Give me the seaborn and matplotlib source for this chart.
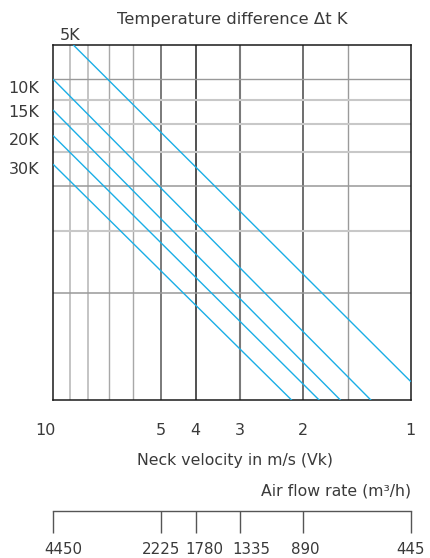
import pandas as pd
import numpy as np
import matplotlib
matplotlib.use("Agg")
import matplotlib.pyplot as plt
import matplotlib.transforms as mtransforms
from matplotlib.ticker import NullLocator, FixedLocator
import seaborn as sns

# curve end points (velocity m/s, y value on log scale)
dt_labels = ['5K', '10K', '15K', '20K', '30K']
v_start = [8.79, 10.0, 10.0, 10.0, 10.0]
y_start = [10.0, 8.0, 6.55, 5.55, 4.61]
v_end = [1.0, 1.29, 1.57, 1.80, 2.15]
y_end = [1.13, 1.0, 1.0, 1.0, 1.0]

# axis labels
velocity_ticks = [10, 5, 4, 3, 2, 1]
airflow_ticks = [4450, 2225, 1780, 1335, 890, 445]
x_grid = [9, 8, 7, 6, 5, 4, 3, 2, 1.5]
y_grid = [8, 7, 6, 5, 4, 3, 2]
# where the K labels sit on the y scale
k_label_pos = [7.62, 6.52, 5.42, 4.51]
k_label_text = ['10K', '15K', '20K', '30K']

# grid line styles (colour, width)
x_grid_style = {9: ('#c4c4c4', 1.4), 8: ('#c4c4c4', 1.4), 7: ('#a8a8a8', 1.0),
                6: ('#a8a8a8', 1.0), 5: ('#7a7a7a', 1.4), 4: ('#222222', 1.1),
                3: ('#7a7a7a', 1.5), 2: ('#6e6e6e', 1.4), 1.5: ('#9a9a9a', 1.0)}
y_grid_style = {8: ('#999999', 1.0), 7: ('#c8c8c8', 1.5), 6: ('#c8c8c8', 1.5),
                5: ('#c8c8c8', 1.5), 4: ('#999999', 1.1), 3: ('#c8c8c8', 1.5),
                2: ('#999999', 1.1)}
# small horizontal nudges of the bottom labels (points), as in the original
airflow_nudge = [7, 0, 6.5, 8, 1.5, 0]

rows = []
for lab, v0, y0, v1, y1 in zip(dt_labels, v_start, y_start, v_end, y_end):
    rows.append({'dt': lab, 'v': v0, 'y': y0})
    rows.append({'dt': lab, 'v': v1, 'y': y1})
df = pd.DataFrame(rows)

sns.set_style('white')
plt.rcParams['font.family'] = ['DejaVu Sans']
text_col = '#3a3a3a'
blue = '#1aaee6'

fig = plt.figure(figsize=(4.3, 5.58), dpi=100)
ax = fig.add_axes([0.124, 0.2826, 0.831, 0.6368])

for xv in x_grid:
    c, w = x_grid_style[xv]
    ax.axvline(xv, color=c, lw=w, zorder=1)
for yv in y_grid:
    c, w = y_grid_style[yv]
    ax.axhline(yv, color=c, lw=w, zorder=1)

sns.lineplot(data=df, x='v', y='y', hue='dt', palette=[blue] * len(dt_labels),
             legend=False, ax=ax, lw=1.0, zorder=3, estimator=None, sort=False)

ax.set_xscale('log')
ax.set_yscale('log')
ax.set_xlim(10, 1)
ax.set_ylim(1, 10)
ax.xaxis.set_major_locator(FixedLocator(velocity_ticks))
ax.xaxis.set_minor_locator(NullLocator())
ax.set_xticklabels([str(t) for t in velocity_ticks])
ax.yaxis.set_major_locator(FixedLocator(k_label_pos))
ax.yaxis.set_minor_locator(NullLocator())
ax.set_yticklabels(k_label_text)
ax.tick_params(axis='x', length=0, pad=16, labelsize=11.5, labelcolor=text_col)
ax.tick_params(axis='y', length=0, pad=10, labelsize=11.5, labelcolor=text_col)
ax.set_xlabel('')
ax.set_ylabel('')
for s in ax.spines.values():
    s.set_color('#1a1a1a')
    s.set_linewidth(1.1)
# the "10" sits a little left of its line
lbl10 = ax.get_xticklabels()[0]
lbl10.set_transform(lbl10.get_transform() +
                    mtransforms.ScaledTranslation(-6 / 72, 0, fig.dpi_scale_trans))

# 5K label above the plot
fig.text(70 / 430, 1 - 40 / 558, dt_labels[0], ha='center', va='baseline',
         fontsize=11.5, color=text_col)

fig.text(232 / 430, 1 - 24 / 558, 'Temperature difference \u0394t K',
         ha='center', va='baseline', fontsize=11.8, color=text_col)
fig.text(235 / 430, 1 - 465 / 558, 'Neck velocity in m/s (Vk)',
         ha='center', va='baseline', fontsize=11.3, color=text_col)
fig.text(410.7 / 430, 1 - 496 / 558, 'Air flow rate (m\u00b3/h)',
         ha='right', va='baseline', fontsize=11.3, color=text_col)

# air flow rate scale
ax2 = fig.add_axes([0.124, 1 - 511 / 558, 0.831, 0.0001])
ax2.set_facecolor('none')
ax2.set_xscale('log')
ax2.set_xlim(4450, 445)
ax2.xaxis.set_major_locator(FixedLocator(airflow_ticks))
ax2.xaxis.set_minor_locator(NullLocator())
ax2.set_xticklabels([str(t) for t in airflow_ticks])
ax2.set_yticks([])
for side in ['top', 'left', 'right']:
    ax2.spines[side].set_visible(False)
ax2.spines['bottom'].set_color('#555555')
ax2.spines['bottom'].set_linewidth(1.0)
ax2.tick_params(axis='x', bottom=True, direction='out', length=16, width=1.0,
                color='#555555', pad=6, labelsize=10.8, labelcolor=text_col)
for lbl, dx in zip(ax2.get_xticklabels(), airflow_nudge):
    lbl.set_transform(lbl.get_transform() +
                      mtransforms.ScaledTranslation(dx / 72, 0, fig.dpi_scale_trans))

fig.savefig('out.png', dpi=100)
